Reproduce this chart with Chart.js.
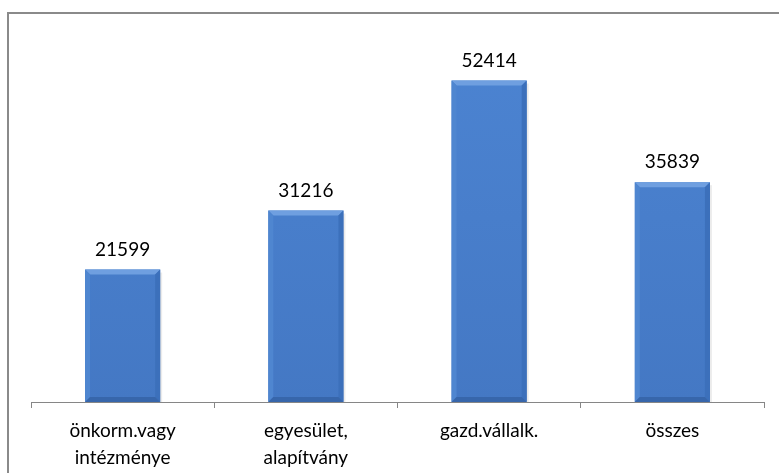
<!DOCTYPE html>
<html>
<head>
<meta charset="utf-8">
<script src="https://cdn.jsdelivr.net/npm/chart.js@4"></script>
<style>
  html, body { margin: 0; padding: 0; background: #fff; }
  #frame {
    position: absolute; left: 7px; top: 12px; width: 900px; height: 600px;
    border-left: 2px solid #8a8a8a; border-top: 2px solid #8a8a8a;
  }
  #wrap { position: absolute; left: 0; top: 0; width: 779px; height: 473px; }
</style>
</head>
<body>
<div id="frame"></div>
<div id="wrap"><canvas id="chart" width="779" height="473"></canvas></div>
<script>
'use strict'

const categories = [
  ['önkorm.vagy', 'intézménye'],
  ['egyesület,', 'alapítvány'],
  'gazd.vállalk.',
  'összes'
]
const values = [21599, 31216, 52414, 35839]

// draws the Excel-like bevel on each bar plus the value above it
const bevelAndLabels = {
  id: 'bevelAndLabels',
  afterDatasetsDraw (chart) {
    const ctx = chart.ctx
    const meta = chart.getDatasetMeta(0)
    const b = 5
    ctx.save()
    meta.data.forEach((bar, i) => {
      const { x, y, base, width } = bar.getProps(['x', 'y', 'base', 'width'], true)
      const l = x - width / 2
      const r = x + width / 2
      // top edge
      ctx.fillStyle = '#6f9fe0'
      ctx.beginPath()
      ctx.moveTo(l, y); ctx.lineTo(r, y); ctx.lineTo(r - b, y + b); ctx.lineTo(l + b, y + b)
      ctx.closePath(); ctx.fill()
      // left edge
      ctx.fillStyle = '#4f86d0'
      ctx.beginPath()
      ctx.moveTo(l, y); ctx.lineTo(l + b, y + b); ctx.lineTo(l + b, base - b); ctx.lineTo(l, base)
      ctx.closePath(); ctx.fill()
      // right edge
      ctx.fillStyle = '#3c70bb'
      ctx.beginPath()
      ctx.moveTo(r, y); ctx.lineTo(r - b, y + b); ctx.lineTo(r - b, base - b); ctx.lineTo(r, base)
      ctx.closePath(); ctx.fill()
      // bottom edge
      ctx.fillStyle = '#3766ab'
      ctx.beginPath()
      ctx.moveTo(l, base); ctx.lineTo(l + b, base - b); ctx.lineTo(r - b, base - b); ctx.lineTo(r, base)
      ctx.closePath(); ctx.fill()
      // soft shadow on the right
      ctx.fillStyle = 'rgba(0,0,0,0.08)'
      ctx.fillRect(r, y + 3, 2, base - y - 3)

      ctx.fillStyle = '#000'
      ctx.font = '19px Lato'
      ctx.textAlign = 'center'
      ctx.textBaseline = 'middle'
      ctx.fillText(String(values[i]), x, y - 20)
    })
    ctx.restore()
  }
}

const ctx = document.getElementById('chart').getContext('2d')
new Chart(ctx, {
  type: 'bar',
  data: {
    labels: categories,
    datasets: [
      {
        data: values,
        backgroundColor: (c) => {
          const area = c.chart.chartArea
          if (!area) return '#4a7fcc'
          const g = c.chart.ctx.createLinearGradient(0, area.top, 0, area.bottom)
          g.addColorStop(0, '#4c84d2')
          g.addColorStop(1, '#4478c4')
          return g
        },
        borderWidth: 0,
        barPercentage: 0.41,
        categoryPercentage: 1
      }
    ]
  },
  options: {
    responsive: false,
    animation: false,
    layout: { padding: { left: 31, right: 15, top: 34, bottom: 3 } },
    plugins: {
      legend: { display: false },
      tooltip: { enabled: false }
    },
    scales: {
      x: {
        afterFit: (scale) => { scale.height = 68 },
        grid: {
          drawOnChartArea: false,
          tickLength: 6,
          color: '#868686'
        },
        border: { color: '#868686', width: 1 },
        ticks: {
          color: '#000',
          padding: 9,
          maxRotation: 0,
          autoSkip: false,
          font: { family: 'Lato', size: 19, lineHeight: 1.42 }
        }
      },
      y: {
        display: false,
        min: 0,
        max: 60000
      }
    }
  },
  plugins: [bevelAndLabels]
})
</script>
</body>
</html>
